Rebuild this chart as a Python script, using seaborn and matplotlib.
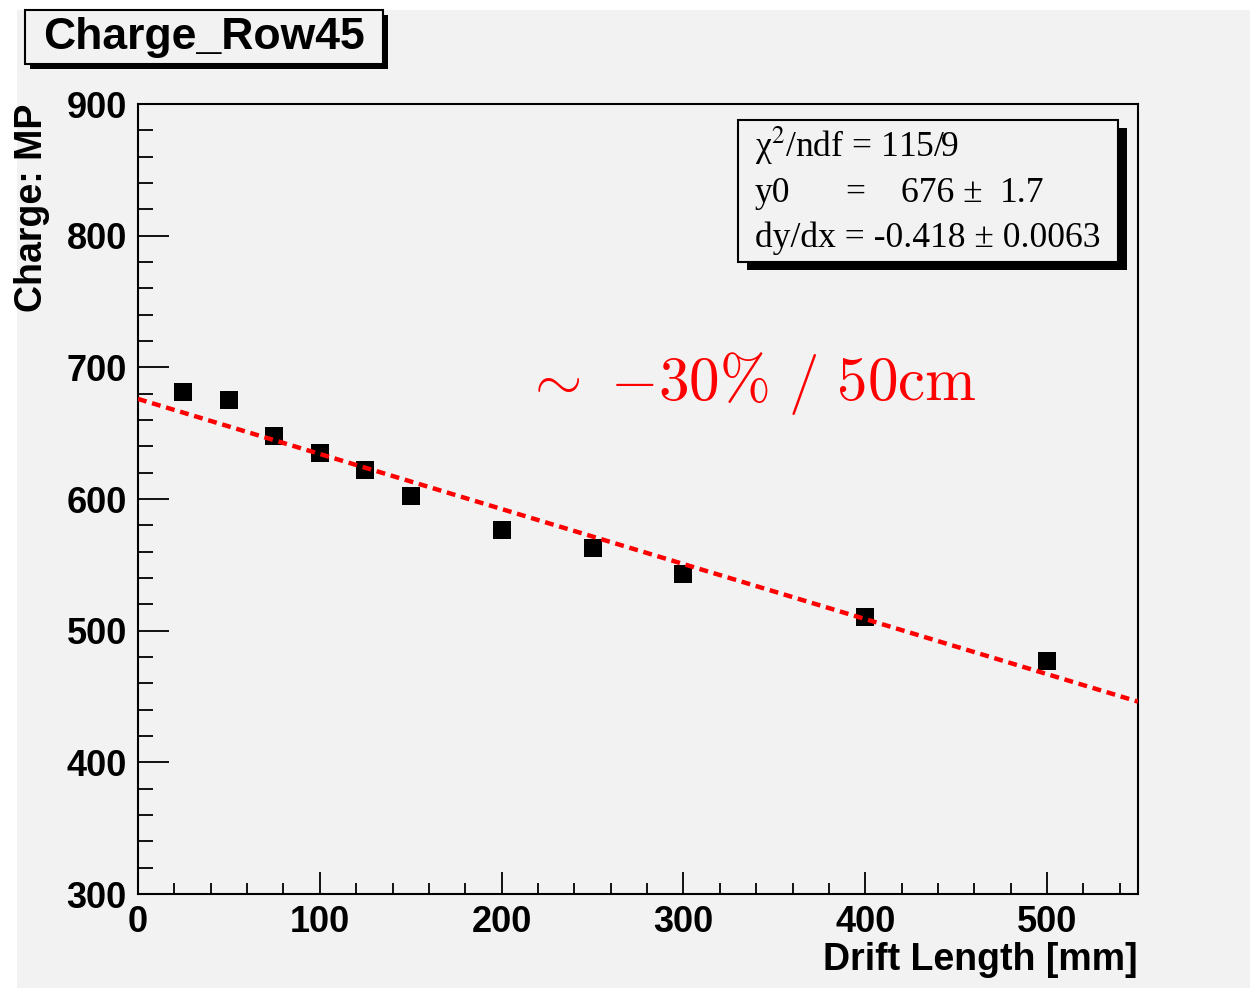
import matplotlib
matplotlib.use("Agg")
import matplotlib.pyplot as plt
from matplotlib.patches import Rectangle
from matplotlib.ticker import MultipleLocator
import numpy as np
import seaborn as sns

# Data
drift_mm = [25, 50, 75, 100, 125, 150, 200, 250, 300, 400, 500]
charge_mp = [681, 675, 648, 635, 622, 602, 576.5, 563, 543, 510.5, 477]

# Fit parameters (pol1) shown in the stats box
fit_y0 = 676.0
fit_slope = -0.418
fit_range = [0, 550]

title_text = "Charge_Row45"
stat_lines = ["χ$^{2}$/ndf = 115/9", "dy/dx = -0.418 ± 0.0063"]

W, H = 1250, 988
BG = "#f2f2f2"

sns.set_theme(style="ticks")
plt.rcParams["font.family"] = ["Liberation Sans", "DejaVu Sans"]
plt.rcParams["text.color"] = "black"


def fx(px):
    return px / W


def fy(py):
    return 1 - py / H


def shadow_box(fig, x0, y0, x1, y1, off_x, off_y):
    """ROOT-style box with a black drop shadow, pixel coords."""
    fig.patches.append(Rectangle((fx(x0 + off_x), fy(y1 + off_y)),
                                 fx(x1 - x0), (y1 - y0) / H,
                                 transform=fig.transFigure, facecolor="black",
                                 edgecolor="none", zorder=5))
    fig.patches.append(Rectangle((fx(x0), fy(y1)), fx(x1 - x0), (y1 - y0) / H,
                                 transform=fig.transFigure, facecolor=BG,
                                 edgecolor="black", linewidth=1.5, zorder=6))


fig = plt.figure(figsize=(W / 100, H / 100), dpi=100)
fig.patch.set_facecolor("white")
fig.patches.append(Rectangle((fx(17), 0), 1 - fx(17), fy(10), transform=fig.transFigure,
                             facecolor=BG, edgecolor="none", zorder=-10))

ax = fig.add_axes([fx(138), fy(894), fx(1000), 790 / H])
ax.set_facecolor(BG)

sns.scatterplot(x=drift_mm, y=charge_mp, marker="s", s=170, color="black",
                linewidth=0, ax=ax, zorder=3)

fit_x = np.array(fit_range, dtype=float)
sns.lineplot(x=fit_x, y=fit_y0 + fit_slope * fit_x, color="red", linewidth=3.2,
             linestyle=(0, (2.0, 1.3)), ax=ax, zorder=4)

ax.set_xlim(0, 550)
ax.set_ylim(300, 900)
ax.xaxis.set_major_locator(MultipleLocator(100))
ax.xaxis.set_minor_locator(MultipleLocator(20))
ax.yaxis.set_major_locator(MultipleLocator(100))
ax.yaxis.set_minor_locator(MultipleLocator(20))

for side in ["left", "right", "top", "bottom"]:
    ax.spines[side].set_linewidth(1.5)
    ax.spines[side].set_color("black")

ax.tick_params(axis="x", which="major", direction="in", length=16, width=1.3, pad=8,
               colors="black")
ax.tick_params(axis="x", which="minor", direction="in", length=8, width=1.3, colors="black")
ax.tick_params(axis="y", which="major", direction="in", length=22, width=1.3, pad=8,
               colors="black")
ax.tick_params(axis="y", which="minor", direction="in", length=11, width=1.3, colors="black")
for lab in ax.get_xticklabels() + ax.get_yticklabels():
    lab.set_fontsize(26)
    lab.set_fontweight("bold")

ax.set_xlabel("Drift Length [mm]", fontsize=27, fontweight="bold", color="black")
ax.set_ylabel("Charge: MP", fontsize=27, fontweight="bold", color="black")
ax.xaxis.set_label_coords(1.0, -0.061)
ax.xaxis.label.set_ha("right")
ax.xaxis.label.set_va("top")
ax.yaxis.set_label_coords(-0.106, 1.0)
ax.yaxis.label.set_ha("right")
ax.yaxis.label.set_va("center")

# title box
shadow_box(fig, 25, 10, 383, 64, 5, 5)
fig.text(fx(204), fy(37), title_text, fontsize=32, fontweight="bold",
         ha="center", va="center", zorder=7)

# stats box
shadow_box(fig, 738, 120, 1118, 262, 9, 8)
serif = dict(family=["Liberation Serif", "DejaVu Serif"], fontsize=25.6, zorder=7,
             va="baseline", math_fontfamily="stix", color="black")
fig.text(fx(755), fy(157), stat_lines[0], **serif)
fig.text(fx(755), fy(202), "y0", **serif)
fig.text(fx(845), fy(202), "=", **serif)
fig.text(fx(901), fy(202), "676 ±", **serif)
fig.text(fx(1000), fy(202), "1.7", **serif)
fig.text(fx(755), fy(247), stat_lines[1], **serif)

# annotation
fig.text(fx(524), fy(400), r"$\sim\ {-}30\%\ /\ \mathrm{50cm}$", color="red",
         fontsize=44, math_fontfamily="cm", va="baseline", zorder=7)

fig.savefig("out.png", dpi=100, facecolor=fig.get_facecolor())
